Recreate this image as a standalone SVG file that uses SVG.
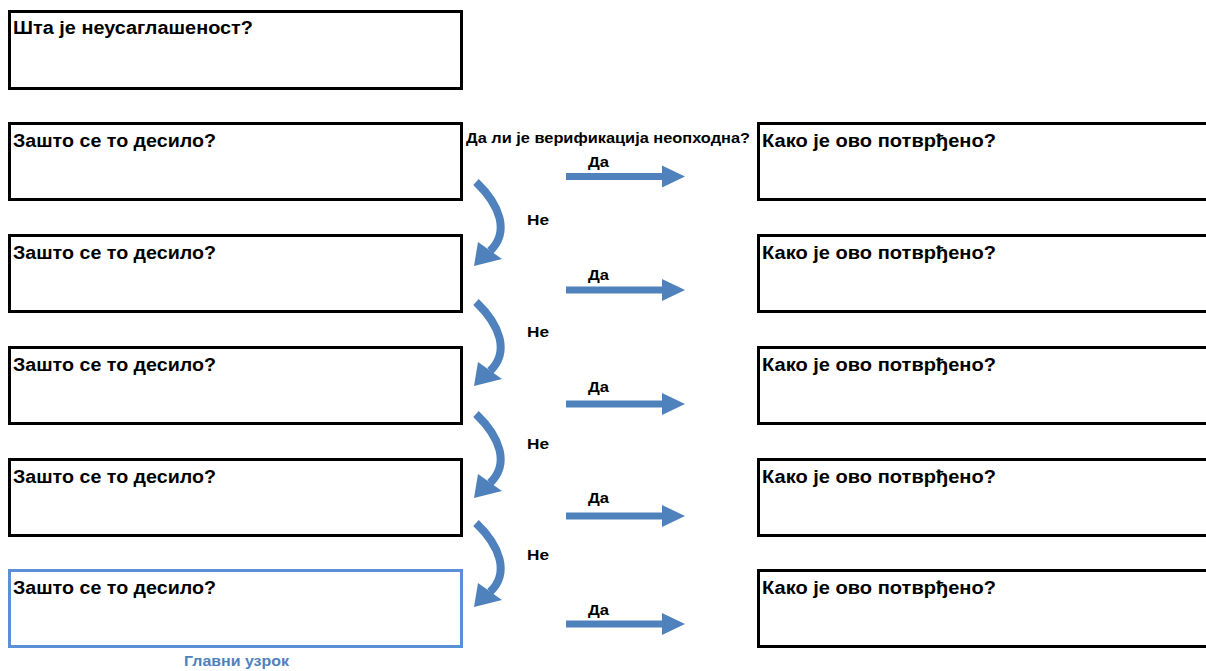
<svg xmlns="http://www.w3.org/2000/svg" width="1206" height="671" viewBox="0 0 1206 671">
<style>
.box{fill:#fff;stroke:#000;stroke-width:3}
.boxb{fill:#fff;stroke:#5b8fd6;stroke-width:3}
.t{font-family:"Liberation Sans",Arial,sans-serif;font-weight:bold;font-size:18px;fill:#000}
.s{font-family:"Liberation Sans",Arial,sans-serif;font-weight:bold;font-size:14.5px;fill:#000}
.b{font-family:"Liberation Sans",Arial,sans-serif;font-weight:bold;font-size:14.5px;fill:#4f81bd}
.shaft{fill:none;stroke:#4f81bd;stroke-width:8}
.head{fill:#4f81bd}
</style>
<defs>
<g id="straight"><rect x="566" y="-3.5" width="97" height="7" class="head"/><polygon points="662,-11 685,0 662,11" class="head"/></g>
<g id="curve"><path d="M476,182 C500,205 510,232 490,251" class="shaft"/><polygon points="474,266 478,242 502,259" class="head"/></g>
</defs>
<g id="n0"><rect x="9.5" y="11.5" width="452" height="77" class="box"/><text x="13" y="34" class="t" textLength="240" lengthAdjust="spacingAndGlyphs">Шта је неусаглашеност?</text></g>
<g id="l1"><rect x="9.5" y="123.5" width="452" height="76" class="box"/><text x="13" y="147" class="t" textLength="203" lengthAdjust="spacingAndGlyphs">Зашто се то десило?</text></g>
<g id="l2"><rect x="9.5" y="235.5" width="452" height="76" class="box"/><text x="13" y="259" class="t" textLength="203" lengthAdjust="spacingAndGlyphs">Зашто се то десило?</text></g>
<g id="l3"><rect x="9.5" y="347.5" width="452" height="76" class="box"/><text x="13" y="371" class="t" textLength="203" lengthAdjust="spacingAndGlyphs">Зашто се то десило?</text></g>
<g id="l4"><rect x="9.5" y="459.5" width="452" height="76" class="box"/><text x="13" y="483" class="t" textLength="203" lengthAdjust="spacingAndGlyphs">Зашто се то десило?</text></g>
<g id="l5"><rect x="9.5" y="570.5" width="452" height="76" class="boxb"/><text x="13" y="594" class="t" textLength="203" lengthAdjust="spacingAndGlyphs">Зашто се то десило?</text><text x="184" y="666" class="b" textLength="105" lengthAdjust="spacingAndGlyphs">Главни узрок</text></g>
<g id="r1"><rect x="758.5" y="123.5" width="452" height="76" class="box"/><text x="762" y="147" class="t" textLength="234" lengthAdjust="spacingAndGlyphs">Како је ово потврђено?</text></g>
<g id="r2"><rect x="758.5" y="235.5" width="452" height="76" class="box"/><text x="762" y="259" class="t" textLength="234" lengthAdjust="spacingAndGlyphs">Како је ово потврђено?</text></g>
<g id="r3"><rect x="758.5" y="347.5" width="452" height="76" class="box"/><text x="762" y="371" class="t" textLength="234" lengthAdjust="spacingAndGlyphs">Како је ово потврђено?</text></g>
<g id="r4"><rect x="758.5" y="459.5" width="452" height="76" class="box"/><text x="762" y="483" class="t" textLength="234" lengthAdjust="spacingAndGlyphs">Како је ово потврђено?</text></g>
<g id="r5"><rect x="758.5" y="570.5" width="452" height="76" class="box"/><text x="762" y="594" class="t" textLength="234" lengthAdjust="spacingAndGlyphs">Како је ово потврђено?</text></g>
<g id="question"><text x="466" y="143" class="s" textLength="284" lengthAdjust="spacingAndGlyphs">Да ли је верификација неопходна?</text></g>
<g id="connectors">
<use href="#straight" y="176.5"/>
<use href="#straight" y="290"/>
<use href="#straight" y="404"/>
<use href="#straight" y="516"/>
<use href="#straight" y="624"/>
<use href="#curve"/>
<use href="#curve" y="120"/>
<use href="#curve" y="232"/>
<use href="#curve" y="341"/>
<text x="588" y="167" class="s" textLength="21" lengthAdjust="spacingAndGlyphs">Да</text>
<text x="588" y="280" class="s" textLength="21" lengthAdjust="spacingAndGlyphs">Да</text>
<text x="588" y="392" class="s" textLength="21" lengthAdjust="spacingAndGlyphs">Да</text>
<text x="588" y="503" class="s" textLength="21" lengthAdjust="spacingAndGlyphs">Да</text>
<text x="588" y="615" class="s" textLength="21" lengthAdjust="spacingAndGlyphs">Да</text>
<text x="527" y="225" class="s" textLength="22" lengthAdjust="spacingAndGlyphs">Не</text>
<text x="527" y="337" class="s" textLength="22" lengthAdjust="spacingAndGlyphs">Не</text>
<text x="527" y="449" class="s" textLength="22" lengthAdjust="spacingAndGlyphs">Не</text>
<text x="527" y="560" class="s" textLength="22" lengthAdjust="spacingAndGlyphs">Не</text>
</g>
</svg>
